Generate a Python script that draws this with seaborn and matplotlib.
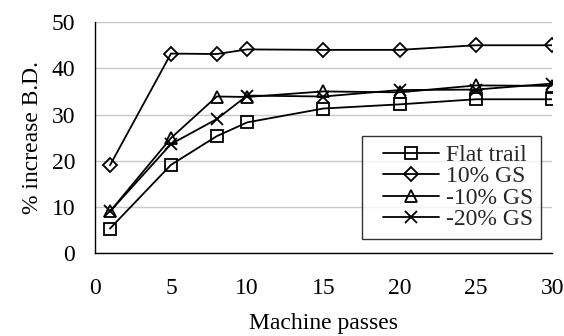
import matplotlib
matplotlib.use("Agg")
import matplotlib.pyplot as plt
from matplotlib.legend_handler import HandlerLine2D
import seaborn as sns

# machine passes and % increase in bulk density per trail
passes = [1, 5, 8, 10, 15, 20, 25, 30]
flat_trail = [5.3, 19.1, 25.3, 28.3, 31.3, 32.2, 33.3, 33.3]
gs_plus10 = [19.0, 43.2, 43.1, 44.1, 44.0, 44.0, 45.0, 45.0]
gs_minus10 = [9.0, 24.9, 33.9, 33.8, 35.0, 34.8, 36.3, 36.2]
gs_minus20 = [9.0, 23.6, 29.0, 34.1, 33.9, 35.3, 35.4, 36.7]

series_names = ["Flat trail", "10% GS", "-10% GS", "-20% GS"]
series_markers = ["s", "D", "^", "x"]
series_sizes = [8, 7, 9, 9]

sns.set_theme(style="white")
plt.rcParams["font.family"] = ["Liberation Serif", "DejaVu Serif"]

fig, ax = plt.subplots(figsize=(5.64, 3.36), dpi=100)
fig.subplots_adjust(left=0.168, right=0.979, top=0.934, bottom=0.247)

for name, vals, mk, ms in zip(series_names, [flat_trail, gs_plus10, gs_minus10, gs_minus20],
                              series_markers, series_sizes):
    sns.lineplot(x=passes, y=vals, ax=ax, color="black", linewidth=1.3,
                 marker=mk, markersize=ms, markerfacecolor="none",
                 markeredgecolor="black", markeredgewidth=1.3, label=name)

ax.set_xlim(0, 30)
ax.set_ylim(0, 50)
ax.set_xticks(range(0, 31, 5))
ax.set_yticks(range(0, 51, 10))
ax.yaxis.grid(True, color="#c8c8c8", linewidth=1)
ax.set_axisbelow(True)
for s in ["top", "right"]:
    ax.spines[s].set_visible(False)
for s in ["left", "bottom"]:
    ax.spines[s].set_color("black")
    ax.spines[s].set_linewidth(1)
ax.tick_params(axis="both", which="major", direction="out", length=8, width=1,
               color="black", labelsize=17, labelcolor="black")
ax.tick_params(axis="x", pad=10)
ax.tick_params(axis="y", pad=6)
ax.set_xlabel("Machine passes", fontsize=17, color="black", labelpad=10)
ax.set_ylabel("% increase B.D.", fontsize=17, color="black", labelpad=6)

handles, labels = ax.get_legend_handles_labels()
leg = ax.legend(handles, labels, loc="lower right", bbox_to_anchor=(0.976, 0.062),
                fontsize=17, frameon=True, fancybox=False, handlelength=2.9,
                borderpad=0.35, labelspacing=0.0, handletextpad=0.3,
                borderaxespad=0,
                handler_map={h: HandlerLine2D(xpad=0.54) for h in handles})
leg.get_frame().set_edgecolor("black")
leg.get_frame().set_linewidth(1)

fig.savefig("out.png", dpi=100)
